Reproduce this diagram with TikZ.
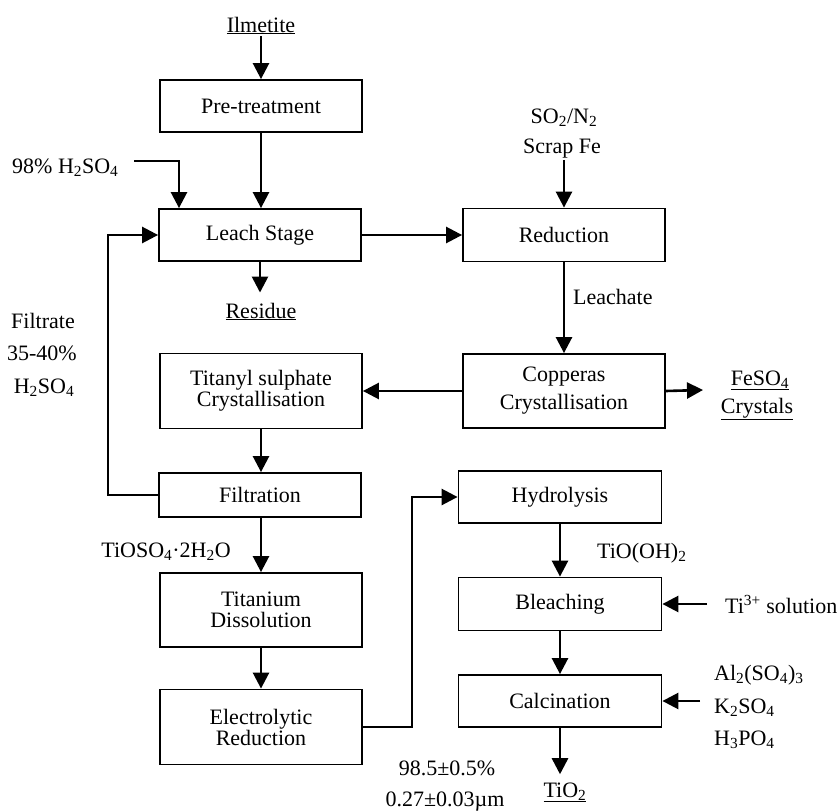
\documentclass[tikz,border=0pt]{standalone}
\usepackage{fontspec}
\setmainfont{Liberation Serif}
\usetikzlibrary{arrows.meta}
\newcommand{\ulx}[1]{\underline{#1}}
\begin{document}
\begin{tikzpicture}[x=1pt,y=-1pt,
  box/.style={draw, line width=1.8pt, minimum width=202pt, inner sep=0pt, align=center,
              font=\fontsize{22}{21}\selectfont},
  lbl/.style={inner sep=2pt, font=\fontsize{22}{26}\selectfont},
  flow/.style={line width=2.6pt, -{Triangle[length=16pt,width=16pt]}},
  plain/.style={line width=2.6pt}]
\useasboundingbox (0,0) rectangle (839,811);

% process boxes
\node[box, minimum height=52pt] (pre) at (261,106) {Pre-treatment};
\node[box, minimum height=52pt] (leach) at (260,235) {Leach Stage};
\node[box, minimum height=53pt] (red) at (564,235) {Reduction};
\node[box, minimum height=74pt] (cop) at (564,391) {Copperas\\[7pt]Crystallisation};
\node[box, minimum height=75pt] (tit) at (261,391) {Titanyl sulphate\\Crystallisation};
\node[box, minimum height=44pt] (fil) at (260,495) {Filtration};
\node[box, minimum height=74pt] (tid) at (261,610) {Titanium\\Dissolution};
\node[box, minimum height=75pt] (ele) at (261,727) {Electrolytic\\Reduction};
\node[box, minimum width=203pt, minimum height=52pt] (hyd) at (560,497) {Hydrolysis};
\node[box, minimum width=203pt, minimum height=53pt] (ble) at (560,604) {Bleaching};
\node[box, minimum width=203pt, minimum height=52pt] (cal) at (560,701) {Calcination};

% labels
\node[lbl, anchor=base] (ilm) at (261,32) {\ulx{Ilmetite}};
\node[lbl, anchor=base west] (acid) at (10,173) {98\% H\textsubscript{2}SO\textsubscript{4}};
\node[lbl, anchor=base] (filt1) at (43,328) {Filtrate};
\node[lbl, anchor=base] (filt2) at (42,360) {35-40\%};
\node[lbl, anchor=base] (filt3) at (44,393) {H\textsubscript{2}SO\textsubscript{4}};
\node[lbl, anchor=base] (res) at (261,318) {\ulx{Residue}};
\node[lbl, anchor=base] (so2) at (564,123) {SO\textsubscript{2}/N\textsubscript{2}};
\node[lbl, anchor=base] (scrap) at (562,153) {Scrap Fe};
\node[lbl, anchor=west, inner sep=0pt] (leachate) at (573,297) {Leachate};
\node[lbl, anchor=base] (feso) at (760,385) {\ulx{FeSO\textsubscript{4}}};
\node[lbl, anchor=base] (cryst) at (757,413) {\ulx{Crystals}};
\node[lbl, anchor=base] (tioso) at (166,557) {TiOSO\textsubscript{4}·2H\textsubscript{2}O};
\node[lbl, anchor=base west, inner sep=0pt] (tiooh) at (597,558) {TiO(OH)\textsubscript{2}};
\node[lbl, anchor=base west, inner sep=0pt] (ti3) at (725,613) {Ti\textsuperscript{3+} solution};
\node[lbl, anchor=base west, inner sep=0pt] (al) at (714,680) {Al\textsubscript{2}(SO\textsubscript{4})\textsubscript{3}};
\node[lbl, anchor=base west, inner sep=0pt] (k2) at (714,713) {K\textsubscript{2}SO\textsubscript{4}};
\node[lbl, anchor=base west, inner sep=0pt] (h3) at (714,745) {H\textsubscript{3}PO\textsubscript{4}};
\node[lbl, anchor=base] (tio2) at (565,797) {\ulx{TiO\textsubscript{2}}};
\node[lbl, anchor=base] (pur) at (447,775) {98.5±0.5\%};
\node[lbl, anchor=base] (size) at (445,806) {0.27±0.03µm};

% free ends
\coordinate (acidend) at (134,161);
\coordinate (feend) at (703,390);
\coordinate (ti3end) at (707,604);
\coordinate (addend) at (700,701);

% connectors
\draw[flow] (ilm.south) -- (pre.north);
\draw[flow] (pre.south) -- (pre.south |- leach.north);
\draw[flow] (acidend) -| ([xshift=-81pt]leach.north);
\draw[flow] (fil.west) -- ++(-50,0) |- (leach.west);
\draw[flow, shorten >=8pt] (leach.south) -- (leach.south |- res.north);
\draw[flow] (leach.east) -- (red.west);
\draw[flow] (red.north |- scrap.south) -- (red.north);
\draw[flow] (red.south) -- (cop.north);
\draw[flow] (cop.west) -- (tit.east);
\draw[flow] (cop.east) -- (feend);
\draw[flow] (tit.south) -- (tit.south |- fil.north);
\draw[flow] (fil.south -| tid.north) -- (tid.north);
\draw[flow] (tid.south) -- (ele.north);
\draw[flow] (ele.east) -- ++(49,0) |- (hyd.west);
\draw[flow] (hyd.south) -- (ble.north);
\draw[flow] (ti3end) -- (ble.east);
\draw[flow] (ble.south) -- (cal.north);
\draw[flow] (addend) -- (cal.east);
\draw[flow, shorten >=6pt] (cal.south) -- (cal.south |- tio2.north);
\end{tikzpicture}
\end{document}
